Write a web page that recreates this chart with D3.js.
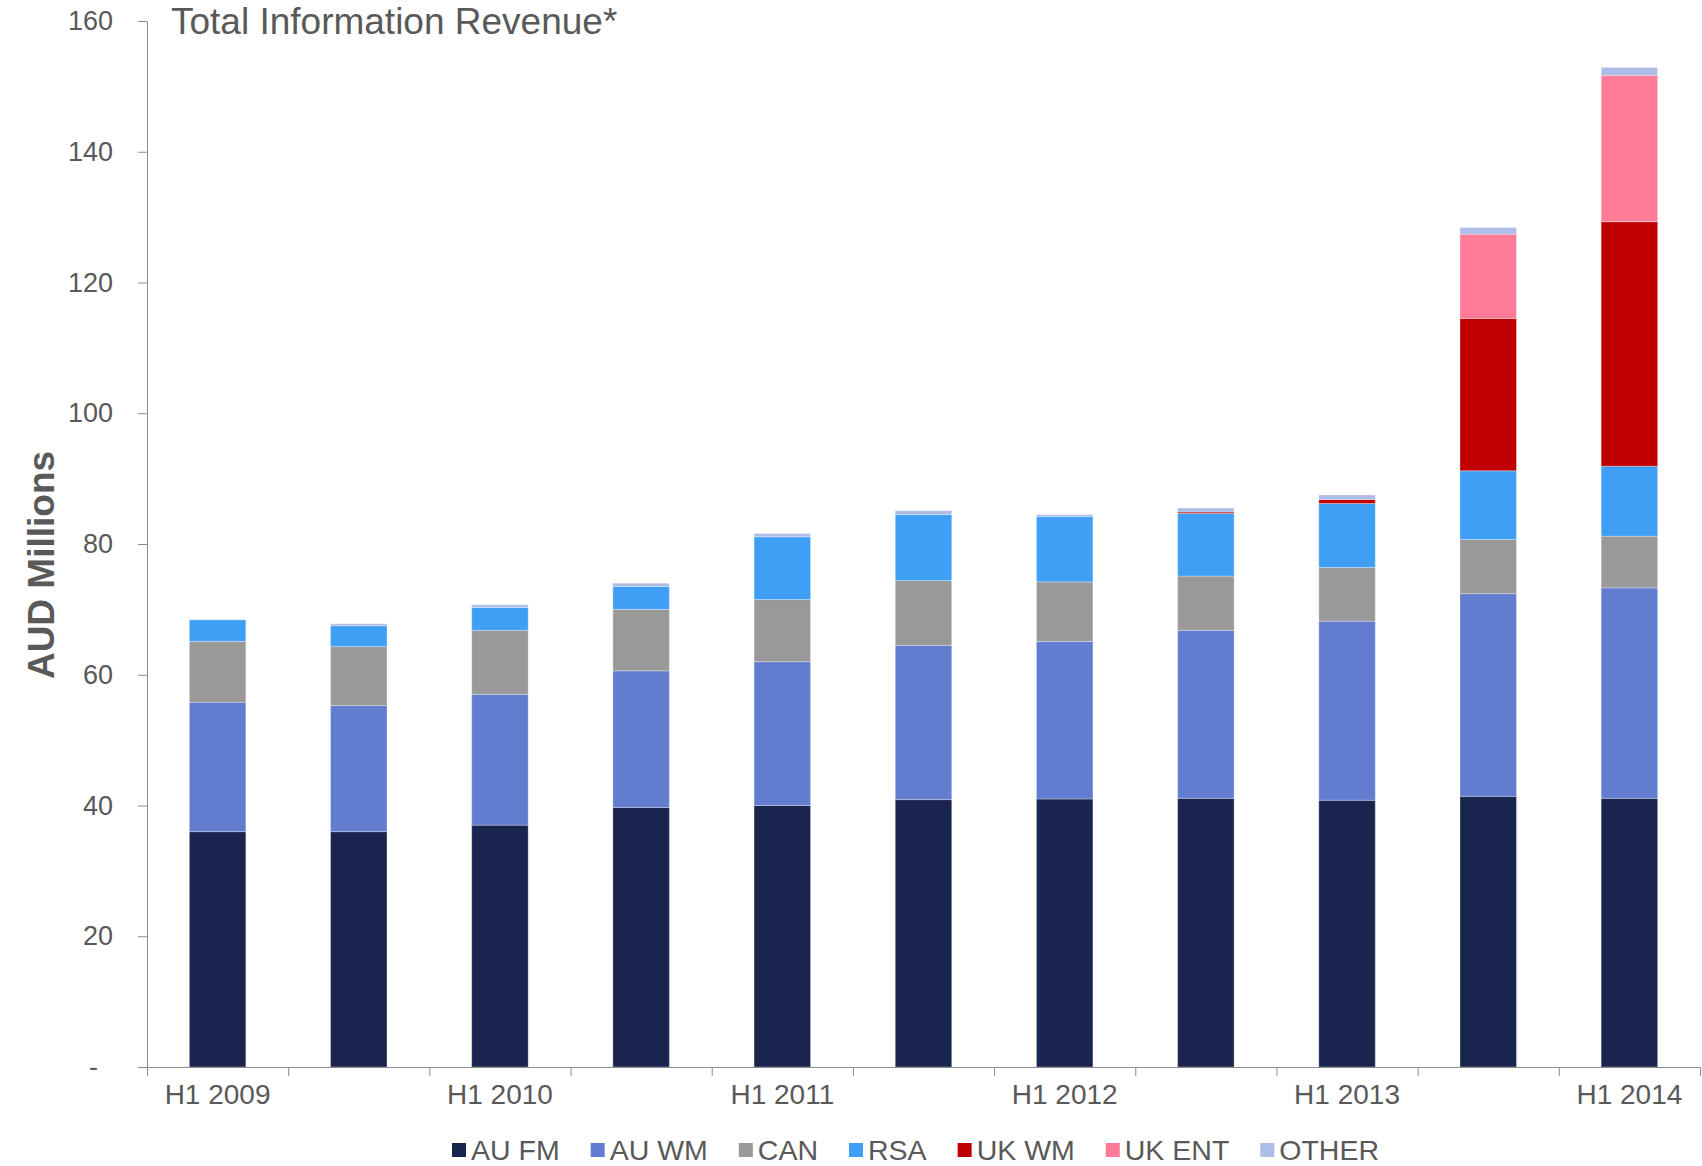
<!DOCTYPE html>
<html>
<head>
<meta charset="utf-8">
<script src="https://cdn.jsdelivr.net/npm/d3@7"></script>
<style>
  body { margin: 0; background: #fff; }
  svg { display: block; font-family: Arial, 'Liberation Sans', sans-serif; }
  .axis path, .axis line { stroke: #8c8c8c; }
  .axis text { fill: #595959; }
</style>
</head>
<body>
<script>
// half-year periods
var periods = ['H1 2009', 'H2 2009', 'H1 2010', 'H2 2010', 'H1 2011', 'H2 2011',
  'H1 2012', 'H2 2012', 'H1 2013', 'H2 2013', 'H1 2014']

// revenue by segment, AUD millions
var auFm = [36.0, 36.0, 37.0, 39.7, 40.0, 40.9, 41.0, 41.1, 40.8, 41.4, 41.1]
var auWm = [19.8, 19.3, 20.0, 20.9, 22.0, 23.6, 24.1, 25.7, 27.4, 31.0, 32.2]
var can = [9.3, 9.0, 9.8, 9.4, 9.5, 9.9, 9.1, 8.3, 8.2, 8.3, 7.9]
var rsa = [3.3, 3.2, 3.5, 3.5, 9.6, 10.1, 10.0, 9.6, 9.8, 10.5, 10.7]
var ukWm = [0, 0, 0, 0, 0, 0, 0, 0.2, 0.6, 23.3, 37.4]
var ukEnt = [0, 0, 0, 0, 0, 0, 0, 0, 0, 12.9, 22.4]
var other = [0, 0.3, 0.4, 0.5, 0.5, 0.6, 0.3, 0.6, 0.7, 1.0, 1.2]

var yTicks = [0, 20, 40, 60, 80, 100, 120, 140, 160]

var seriesNames = ['AU FM', 'AU WM', 'CAN', 'RSA', 'UK WM', 'UK ENT', 'OTHER']
var seriesValues = [auFm, auWm, can, rsa, ukWm, ukEnt, other]
var seriesColors = ['#19244f', '#627ccf', '#999999', '#3f9ff4', '#c00000', '#ff7c98', '#adbde8']

var W = 1702
var H = 1166
var margin = { top: 21, right: 2, bottom: 99, left: 147 }
var width = W - margin.left - margin.right
var height = H - margin.top - margin.bottom

// build rows for the stack
var rows = periods.map(function (p, i) {
  var row = { period: p }
  seriesNames.forEach(function (s, j) { row[s] = seriesValues[j][i] })
  return row
})
var stacked = d3.stack().keys(seriesNames)(rows)

var svg = d3.select('body').append('svg')
  .attr('width', W)
  .attr('height', H)

var g = svg.append('g')
  .attr('transform', 'translate(' + margin.left + ',' + margin.top + ')')

var x = d3.scaleBand().domain(periods).range([0, width])
  .paddingInner(0.6).paddingOuter(0.3)
var xEdge = d3.scaleLinear().domain([0, periods.length]).range([0, width])
var y = d3.scaleLinear().domain([0, 160]).range([height, 0])

// bars
g.selectAll('.layer')
  .data(stacked)
  .enter().append('g')
  .attr('class', 'layer')
  .attr('fill', function (d, i) { return seriesColors[i] })
  .selectAll('rect')
  .data(function (d) { return d })
  .enter().append('rect')
  .filter(function (d) { return d[1] - d[0] > 0 })
  .attr('x', function (d) { return x(d.data.period) })
  .attr('width', x.bandwidth())
  .attr('y', function (d) { return y(d[1]) })
  .attr('height', function (d) { return y(d[0]) - y(d[1]) })
  .attr('stroke', '#ffffff')
  .attr('stroke-opacity', 0.3)
  .attr('stroke-width', 1)

// y axis
var yAxis = g.append('g')
  .attr('class', 'axis')
  .call(d3.axisLeft(y).tickValues(yTicks).tickSize(9).tickSizeOuter(0).tickPadding(25)
    .tickFormat(function (d) { return d === 0 ? '-' : d }))
yAxis.selectAll('text').style('font-size', '27px')
yAxis.selectAll('.tick line').attr('stroke', '#bfbfbf')
yAxis.selectAll('.tick text').filter(function (d) { return d === 0 }).attr('dx', -15)

// x axis with ticks between periods
var xAxis = g.append('g')
  .attr('class', 'axis')
  .attr('transform', 'translate(0,' + height + ')')
  .call(d3.axisBottom(xEdge).tickValues(d3.range(periods.length + 1)).tickSize(9)
    .tickSizeOuter(0).tickFormat(''))
xAxis.selectAll('.tick line').attr('stroke', '#bfbfbf')

var xLabels = g.append('g')
  .attr('class', 'axis')
  .attr('transform', 'translate(0,' + height + ')')
  .call(d3.axisBottom(x).tickSize(0).tickPadding(17)
    .tickValues(periods.filter(function (p) { return p.indexOf('H1') === 0 })))
xLabels.select('.domain').remove()
xLabels.selectAll('text').style('font-size', '28px')

// title
svg.append('text')
  .attr('x', 171)
  .attr('y', 34)
  .style('font-size', '37px')
  .style('fill', '#595959')
  .text('Total Information Revenue*')

// y label
svg.append('text')
  .attr('transform', 'translate(54,565) rotate(-90)')
  .attr('text-anchor', 'middle')
  .style('font-size', '37px')
  .style('font-weight', 'bold')
  .style('fill', '#595959')
  .text('AUD Millions')

// legend
var legend = svg.append('g').attr('transform', 'translate(0,1160)')
var lx = 452
seriesNames.forEach(function (s, i) {
  var item = legend.append('g').attr('transform', 'translate(' + lx + ',0)')
  item.append('rect')
    .attr('x', 0).attr('y', -17)
    .attr('width', 14).attr('height', 14)
    .attr('fill', seriesColors[i])
  var t = item.append('text')
    .attr('x', 19)
    .style('font-size', '28.5px')
    .style('fill', '#595959')
    .text(s)
  lx += 19 + t.node().getComputedTextLength() + 31
})
</script>
</body>
</html>
